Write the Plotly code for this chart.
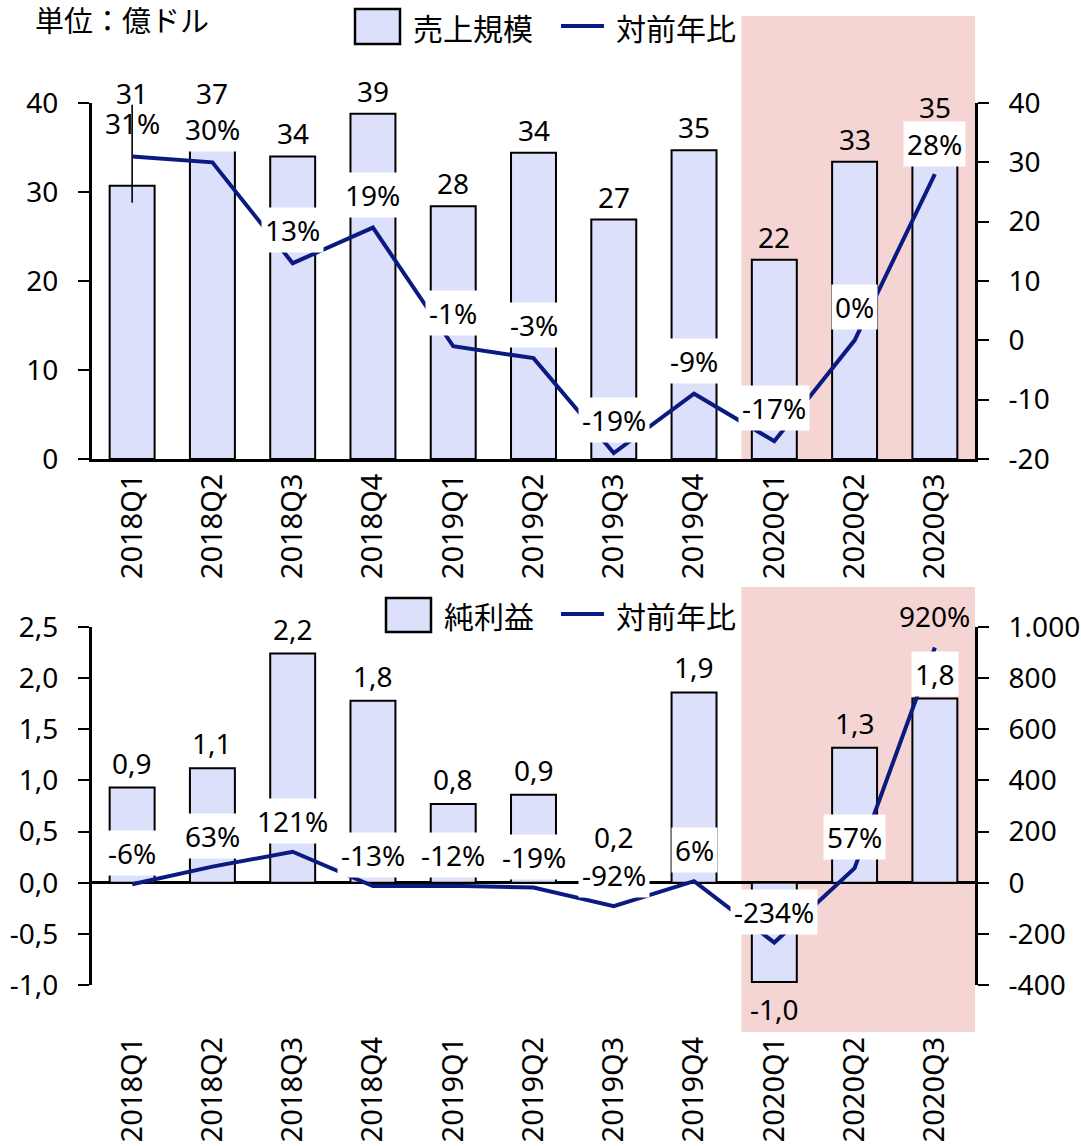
import plotly.graph_objects as go

W, H = 1081, 1146

# ---------------- data ----------------
quarters = ["2018Q1", "2018Q2", "2018Q3", "2018Q4", "2019Q1", "2019Q2",
            "2019Q3", "2019Q4", "2020Q1", "2020Q2", "2020Q3"]
sales = [30.7, 36.8, 34.0, 38.8, 28.4, 34.4, 26.9, 34.7, 22.4, 33.4, 35.2]   # 億ドル
sales_yoy = [31, 30, 13, 19, -1, -3, -19, -9, -17, 0, 28]                    # %
profit = [0.93, 1.12, 2.24, 1.78, 0.77, 0.86, 0.20, 1.86, -0.97, 1.32, 1.80]  # 億ドル
profit_yoy = [-6, 63, 121, -13, -12, -19, -92, 6, -234, 57, 920]             # %
marker_line_y = [28.8, 39.8]   # stray vertical line at 2018Q1 in the source chart

top_left_ticks = [0, 10, 20, 30, 40]
top_right_ticks = [-20, -10, 0, 10, 20, 30, 40]
bot_left_ticks = [-1.0, -0.5, 0.0, 0.5, 1.0, 1.5, 2.0, 2.5]
bot_right_ticks = [-400, -200, 0, 200, 400, 600, 800, 1000]

unit_text = "単位：億ドル"
legend_top = ["売上規模", "対前年比"]
legend_bot = ["純利益", "対前年比"]

# ---------------- style ----------------
BAR_FILL = "#DCE0FA"
LINE_COL = "#0B1A80"
PINK = "#F4D5D4"
FONT = "Noto Sans, Noto Sans CJK JP, sans-serif"
CJK = "Noto Sans CJK JP, Noto Sans, sans-serif"
FS = 28


def px(x):
    return x / W


def py(y):
    return 1 - y / H


def fmt_comma(v, nd=1):
    return f"{v:.{nd}f}".replace(".", ",")


fig = go.Figure()

# ---- top chart ----
fig.add_trace(go.Bar(x=quarters, y=sales, xaxis="x", yaxis="y", width=0.56,
                     marker=dict(color=BAR_FILL, line=dict(color="black", width=2)),
                     showlegend=False))
fig.add_trace(go.Scatter(x=[quarters[0], quarters[0]], y=marker_line_y, xaxis="x", yaxis="y",
                         mode="lines", line=dict(color="black", width=1.6), showlegend=False))
fig.add_trace(go.Scatter(x=quarters, y=sales_yoy, xaxis="x", yaxis="y2", mode="lines",
                         line=dict(color=LINE_COL, width=4), showlegend=False))

# ---- bottom chart ----
fig.add_trace(go.Bar(x=quarters, y=profit, xaxis="x2", yaxis="y3", width=0.56,
                     marker=dict(color=BAR_FILL, line=dict(color="black", width=2)),
                     showlegend=False))
fig.add_trace(go.Scatter(x=quarters, y=profit_yoy, xaxis="x2", yaxis="y4", mode="lines",
                         line=dict(color=LINE_COL, width=4), showlegend=False))

xdom = [px(92), px(975)]
top_dom = [py(459), py(103)]
bot_dom = [py(985), py(627)]

axis_font = dict(family=FONT, size=FS, color="black")
ycommon = dict(showgrid=False, zeroline=False, showline=True, linecolor="black", linewidth=3,
               ticks="outside", ticklen=11, tickwidth=2, tickcolor="black",
               tickfont=axis_font, automargin=False, ticklabelstandoff=14, fixedrange=True)

fig.update_layout(
    width=W, height=H, autosize=False,
    margin=dict(l=0, r=0, t=0, b=0, pad=0),
    paper_bgcolor="white", plot_bgcolor="rgba(0,0,0,0)",
    separators=",.",
    showlegend=False,
    barmode="overlay",
    xaxis=dict(domain=xdom, anchor="y", type="category", range=[-0.5, 10.5],
               showgrid=False, zeroline=False, showline=True, linecolor="black", linewidth=3,
               ticks="", tickangle=-90, tickfont=dict(family=FONT, size=29, color="black"),
               automargin=False, ticklabelstandoff=0),
    yaxis=dict(domain=top_dom, anchor="x", range=[0, 40], tickvals=top_left_ticks,
               ticktext=[f"{v:d}" for v in top_left_ticks], **ycommon),
    yaxis2=dict(overlaying="y", side="right", anchor="x", range=[-20, 40],
                tickvals=top_right_ticks, ticktext=[f"{v:d}" for v in top_right_ticks], **ycommon),
    xaxis2=dict(domain=xdom, anchor="free", position=py(1030), type="category", range=[-0.5, 10.5],
                showgrid=False, zeroline=False, showline=False,
                ticks="", tickangle=-90, tickfont=dict(family=FONT, size=29, color="black"),
                automargin=False, ticklabelstandoff=0),
    yaxis3=dict(domain=bot_dom, anchor="x2", range=[-1.0, 2.5], tickvals=bot_left_ticks,
                ticktext=[fmt_comma(v) for v in bot_left_ticks], **ycommon),
    yaxis4=dict(overlaying="y3", side="right", anchor="x2", range=[-400, 1000],
                tickvals=bot_right_ticks,
                ticktext=[f"{v:,d}".replace(",", ".") for v in bot_right_ticks], **ycommon),
)
# zero line of the bottom chart
fig.update_layout(yaxis3=dict(zeroline=True, zerolinecolor="black", zerolinewidth=3))

shapes = []
# highlighted period
shapes.append(dict(type="rect", xref="x", yref="paper", x0=7.59, x1=10.5,
                   y0=py(459), y1=py(16), fillcolor=PINK, line=dict(width=0), layer="below"))
shapes.append(dict(type="rect", xref="x2", yref="paper", x0=7.59, x1=10.5,
                   y0=py(1032), y1=py(587), fillcolor=PINK, line=dict(width=0), layer="below"))

annotations = []
annotations.append(dict(text=unit_text, xref="paper", yref="paper", x=px(33), y=py(19),
                        xanchor="left", yanchor="middle", showarrow=False,
                        font=dict(family=CJK, size=29, color="black")))


def add_legend(rect_x, rect_y, line_y, names, text_y):
    shapes.append(dict(type="rect", xref="paper", yref="paper",
                       x0=px(rect_x[0]), x1=px(rect_x[1]), y0=py(rect_y[1]), y1=py(rect_y[0]),
                       fillcolor=BAR_FILL, line=dict(color="black", width=2.5), layer="above"))
    shapes.append(dict(type="line", xref="paper", yref="paper",
                       x0=px(561), x1=px(604), y0=py(line_y), y1=py(line_y),
                       line=dict(color=LINE_COL, width=4), layer="above"))
    annotations.append(dict(text=names[0], xref="paper", yref="paper", x=px(rect_x[1] + 11),
                            y=py(text_y), xanchor="left", yanchor="middle", showarrow=False,
                            font=dict(family=CJK, size=30, color="black")))
    annotations.append(dict(text=names[1], xref="paper", yref="paper", x=px(614),
                            y=py(text_y), xanchor="left", yanchor="middle", showarrow=False,
                            font=dict(family=CJK, size=30, color="black")))


add_legend((355, 400), (9, 44), 26, legend_top, 27)
add_legend((386, 431), (598, 632), 614, legend_bot, 615)

lab_font = dict(family=FONT, size=FS, color="black")

# top bar labels (extra offsets reproduce the manually moved labels)
top_bar_extra = [70, 15, 0, 0, 0, 0, 0, 0, 0, 0, 16]
for q, v, e in zip(quarters, sales, top_bar_extra):
    annotations.append(dict(text=f"{v:.0f}", x=q, y=v, xref="x", yref="y", showarrow=False,
                            yanchor="middle", yshift=23 + e, font=lab_font))

# top line labels
top_line_bg = [None] + ["white"] * 10
top_line_shift = [33, 33, 33, 33, 33, 33, 33, 33, 33, 33, 30]
for q, p, bg, s in zip(quarters, sales_yoy, top_line_bg, top_line_shift):
    annotations.append(dict(text=f"{p:d}%", x=q, y=p, xref="x", yref="y2", showarrow=False,
                            yanchor="middle", yshift=s, font=lab_font,
                            bgcolor=bg if bg else "rgba(0,0,0,0)", borderpad=3))

# bottom bar labels
bot_bar_bg = [None] * 10 + ["white"]
for q, v, bg in zip(quarters, profit, bot_bar_bg):
    annotations.append(dict(text=fmt_comma(v), x=q, y=v, xref="x2", yref="y3", showarrow=False,
                            yanchor="middle", yshift=25 if v >= 0 else -27, font=lab_font,
                            bgcolor=bg if bg else "rgba(0,0,0,0)", borderpad=3))

# bottom line labels
bot_line_bg = ["white"] * 10 + [None]
for q, p, bg in zip(quarters, profit_yoy, bot_line_bg):
    annotations.append(dict(text=f"{p:d}%", x=q, y=p, xref="x2", yref="y4", showarrow=False,
                            yanchor="middle", yshift=31, font=lab_font,
                            bgcolor=bg if bg else "rgba(0,0,0,0)", borderpad=3))

fig.update_layout(shapes=shapes, annotations=annotations)
fig.write_html("out.html")
